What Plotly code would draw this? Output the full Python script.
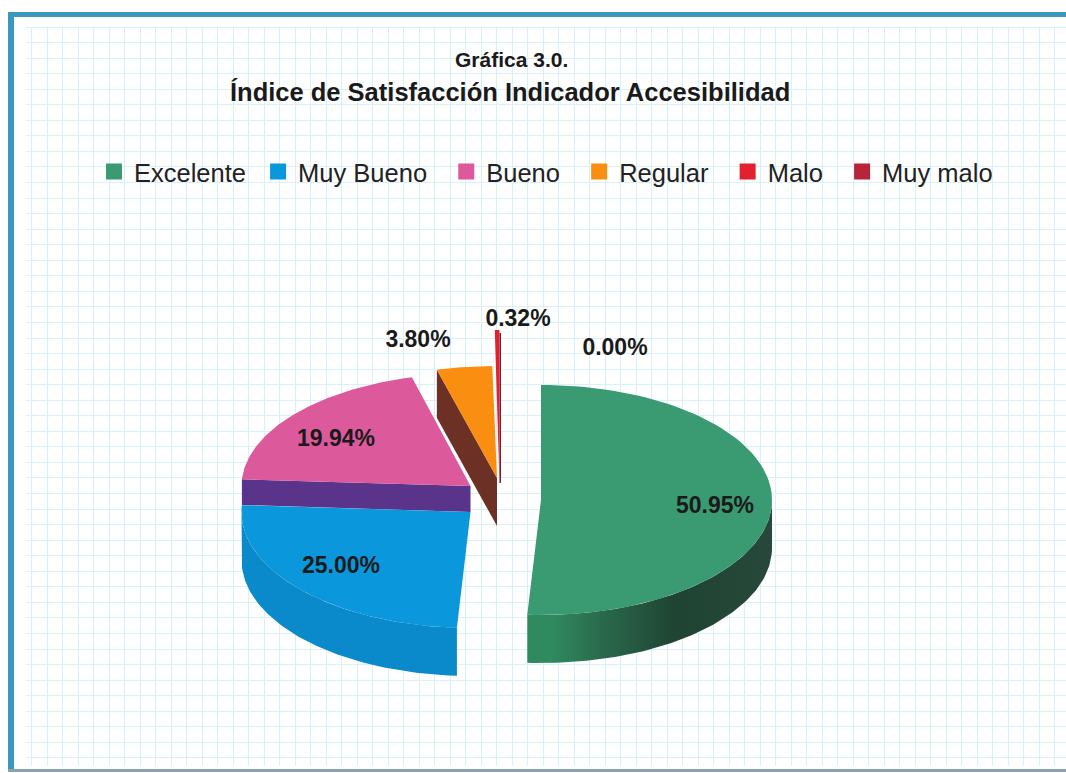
import numpy as np
import plotly.graph_objects as go

categories = ["Excelente", "Muy Bueno", "Bueno", "Regular", "Malo", "Muy malo"]
values = [50.95, 25.00, 19.94, 3.80, 0.32, 0.00]
labels = ["50.95%", "25.00%", "19.94%", "3.80%", "0.32%", "0.00%"]
colors = ["#3a9a72", "#0a97dc", "#dc5a9c", "#f98e10", "#e3202e", "#b8243a"]

FONT = "Liberation Sans"
W, H = 1066, 773

# angles (clockwise from the top) of each slice, from the values
edges = np.concatenate([[0], np.cumsum(values)]) / sum(values) * 360


def arc(c, rx, ry, a0, a1, drop=0):
    t = np.radians(np.linspace(a0, a1, 90))
    return list(c[0] + rx * np.sin(t)), list(c[1] - ry * np.cos(t) + drop)


def wedge(c, rx, ry, a0, a1):
    x, y = arc(c, rx, ry, a0, a1)
    return [c[0]] + x + [c[0]], [c[1]] + y + [c[1]]


def wall(c, rx, ry, a0, a1, depth):
    x, y = arc(c, rx, ry, a0, a1)
    xb, yb = arc(c, rx, ry, a0, a1, depth)
    return x + xb[::-1] + [x[0]], y + yb[::-1] + [y[0]]


fig = go.Figure()


def poly(xy, color=None, name=None, gradient=None):
    kw = dict(fillgradient=gradient) if gradient else dict(fillcolor=color)
    fig.add_trace(go.Scatter(x=xy[0], y=xy[1], mode="lines", fill="toself",
                             line=dict(width=0), hoverinfo="skip",
                             showlegend=False, name=name, **kw))


# placement of the exploded slices: centre, rx, ry
GREEN = ((541, 500), 231, 115)
BLUE = ((470.5, 512), 229, 116)
PINK = ((470.5, 486), 229, 112.5)
ORANGE = ((497, 478), 235, 112)
RED = ((499.5, 483), 235, 153)
DEPTH = 48

# side walls
poly(wall(*GREEN, 90, edges[1], DEPTH), gradient=dict(
    type="horizontal",
    colorscale=[[0, "#2f8a60"], [0.1, "#2f8a60"], [0.3, "#2a6a4c"], [0.6, "#1f4433"], [1, "#27483a"]]))
poly(wall(*BLUE, edges[1], 270, DEPTH), color="#0a8acb")
# inner wall of the pink slice
px, py = arc(*PINK, edges[3], edges[2])
poly(([PINK[0][0], px[-1], px[-1], PINK[0][0]],
      [PINK[0][1], py[-1], BLUE[0][1] - 7, BLUE[0][1]]), color="#59348a")
# inner wall of the orange slice
ox, oy = arc(*ORANGE, edges[3], edges[3])
poly(([ox[0], ORANGE[0][0], ORANGE[0][0], ox[0]],
      [oy[0], ORANGE[0][1], ORANGE[0][1] + DEPTH, oy[0] + DEPTH]), color="#6d3024")
# thin wall of the red slice
poly(([499.5, 501, 501, 499.5], [333, 333, 483, 483]), color="#7a1f2a")

# top faces
poly(wedge(*GREEN, edges[0], edges[1]), color=colors[0])
poly(wedge(*BLUE, edges[1], edges[2]), color=colors[1])
poly(wedge(*PINK, edges[2], edges[3]), color=colors[2])
poly(wedge(*ORANGE, edges[3], edges[4]), color=colors[3])
poly(wedge(*RED, edges[4], edges[5]), color=colors[4])

# legend entries (trailing no-break spaces widen the gaps between entries)
legend_pad = [1, 2, 2, 2, 2, 0]
for name, col, pad in zip(categories, colors, legend_pad):
    fig.add_trace(go.Scatter(x=[None], y=[None], mode="markers", name=name + "\u00a0" * pad,
                             marker=dict(symbol="square", size=17, color=col)))

# data labels
fig.add_trace(go.Scatter(
    x=[715, 341, 336, 418, 518, 615], y=[507, 567, 440, 341, 320, 349],
    mode="text", text=["<b>%s</b>" % s for s in labels], showlegend=False, hoverinfo="skip",
    textfont=dict(family=FONT, size=23, color="#1a1a1a")))

fig.add_annotation(x=511, y=59, text="<b>Gráfica 3.0.</b>", showarrow=False,
                   font=dict(family=FONT, size=21, color="#1a1a1a"))
fig.add_annotation(x=510, y=92, text="<b>Índice de Satisfacción Indicador Accesibilidad</b>",
                   showarrow=False, font=dict(family=FONT, size=25.5, color="#1a1a1a"))

shapes = [
    dict(type="rect", x0=0, x1=W, y0=0, y1=27, fillcolor="white", line_width=0, layer="between"),
    dict(type="rect", x0=0, x1=26, y0=0, y1=H, fillcolor="white", line_width=0, layer="between"),
    dict(type="rect", x0=0, x1=W, y0=766, y1=H, fillcolor="white", line_width=0, layer="between"),
    dict(type="rect", x0=8, x1=14, y0=12, y1=772, fillcolor="#3a97bd", line_width=0, layer="between"),
    dict(type="rect", x0=8, x1=W, y0=12, y1=17, fillcolor="#3a97bd", line_width=0, layer="between"),
    dict(type="rect", x0=8, x1=W, y0=769, y1=772, fillcolor="#8aa3ad", line_width=0, layer="between"),
]

grid = dict(showgrid=True, gridcolor="#d8f0f9", gridwidth=1, zeroline=False,
            showticklabels=False, ticks="", showline=False, fixedrange=True)
fig.update_layout(
    width=W, height=H, margin=dict(l=0, r=0, t=0, b=0), autosize=False,
    paper_bgcolor="white", plot_bgcolor="white", shapes=shapes,
    xaxis=dict(range=[0, W], tick0=31.5, dtick=15.5, **grid),
    yaxis=dict(range=[H, 0], tick0=27, dtick=15.55, **grid),
    legend=dict(orientation="h", x=94 / W, xanchor="left", y=1 - 172 / H, yanchor="middle",
                bgcolor="rgba(0,0,0,0)", font=dict(family=FONT, size=25.5, color="#222222"),
                itemsizing="trace"),
)
fig.write_html("out.html", config=dict(displayModeBar=False),
               post_script="document.body.style.margin='0';document.body.style.overflow='hidden';")
